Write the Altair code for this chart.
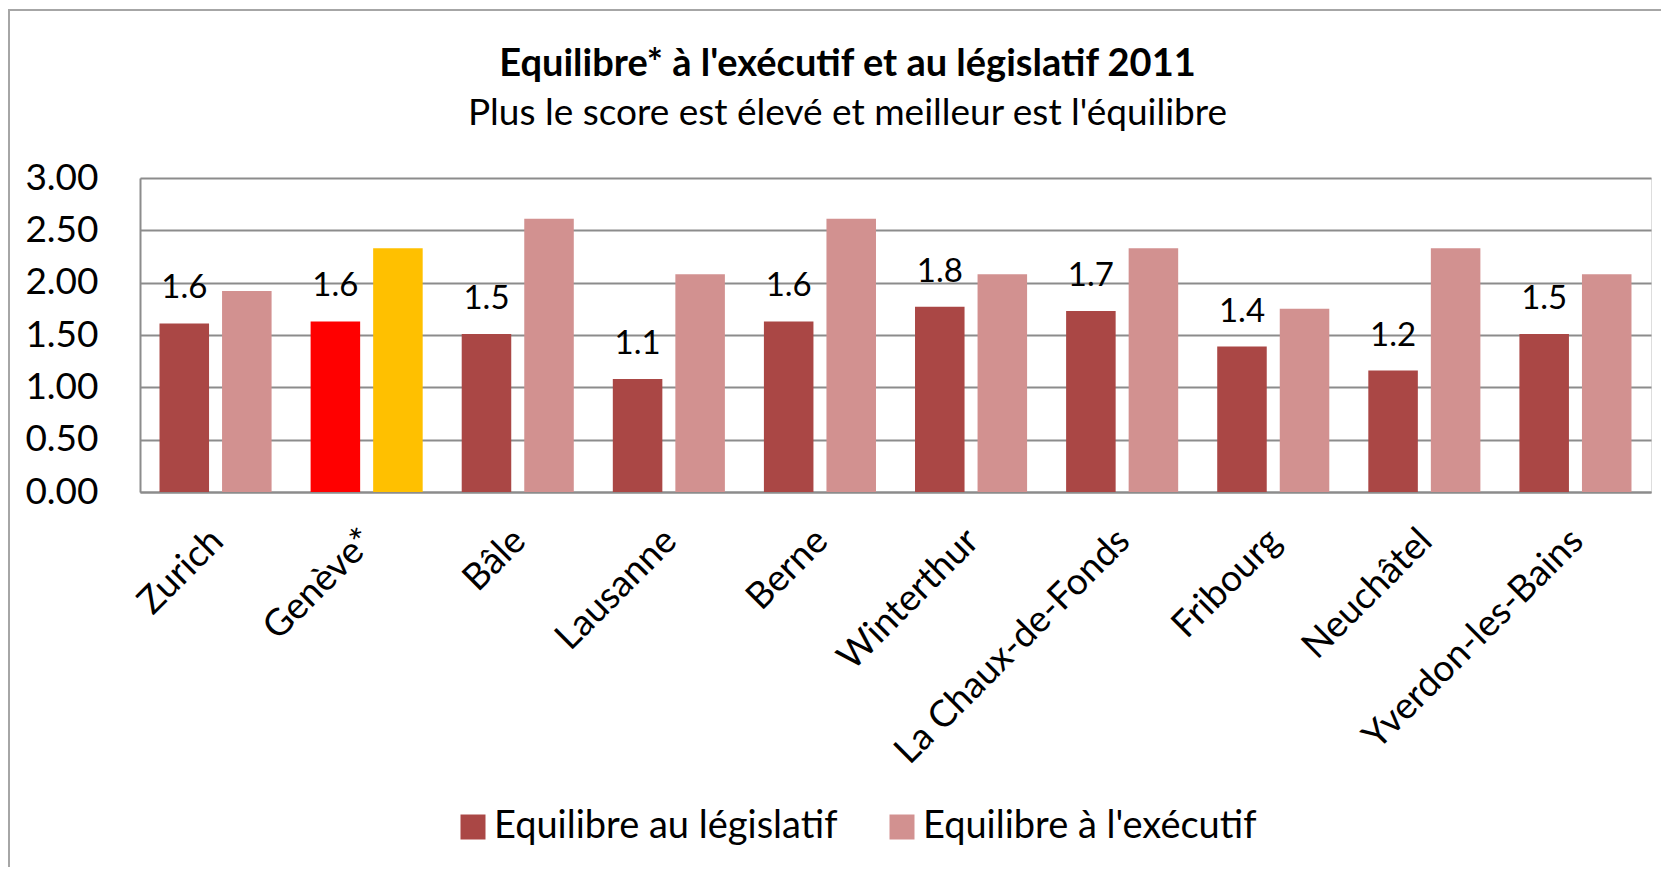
import altair as alt
import pandas as pd

cities = ["Zurich", "Genève*", "Bâle", "Lausanne", "Berne", "Winterthur",
          "La Chaux-de-Fonds", "Fribourg", "Neuchâtel", "Yverdon-les-Bains"]
legislatif = [1.61, 1.63, 1.51, 1.08, 1.63, 1.77, 1.73, 1.39, 1.16, 1.51]
executif = [1.92, 2.33, 2.61, 2.08, 2.61, 2.08, 2.33, 1.75, 2.33, 2.08]
series = ["Equilibre au législatif", "Equilibre à l'exécutif"]
highlight = "Genève*"
highlight_keys = ["Genève législatif", "Genève exécutif"]
y_ticks = [0, 0.5, 1.0, 1.5, 2.0, 2.5, 3.0]

rows = []
for c, l, e in zip(cities, legislatif, executif):
    for i, (s, v) in enumerate(zip(series, [l, e])):
        key = highlight_keys[i] if c == highlight else s
        rows.append({"city": c, "serie": s, "value": v, "ckey": key,
                     "label": v if i == 0 else None})
df = pd.DataFrame(rows)

FONT = "Lato"
dark, light, red, yellow = "#AA4745", "#D29190", "#FF0000", "#FFC000"

x_enc = alt.X("city:N", sort=cities, title=None,
              scale=alt.Scale(paddingInner=0, paddingOuter=0),
              axis=alt.Axis(labelAngle=-45, labelAlign="right", labelBaseline="middle",
                            labelPadding=43, labelOffset=2, ticks=False, labelLimit=0,
                            labelFontSize=37, labelFont=FONT, labelColor="#000000",
                            domainColor="#8c8c8c", domainWidth=2, grid=False))
xo_enc = alt.XOffset("serie:N", sort=series,
                     scale=alt.Scale(paddingInner=0.208, paddingOuter=0.312))

bars = alt.Chart(df).mark_bar().encode(
    x=x_enc,
    xOffset=xo_enc,
    y=alt.Y("value:Q", title=None,
            scale=alt.Scale(domain=[0, 3], nice=False),
            axis=alt.Axis(values=y_ticks, format=".2f", ticks=False, labelPadding=42,
                          labelFontSize=37, labelFont=FONT, labelColor="#000000",
                          domainColor="#8c8c8c", domainWidth=2,
                          gridColor="#8c8c8c", gridWidth=2)),
    color=alt.Color("ckey:N",
                    scale=alt.Scale(domain=series + highlight_keys,
                                    range=[dark, light, red, yellow]),
                    legend=alt.Legend(values=series, title=None, orient="none",
                                      direction="horizontal", columns=2,
                                      legendX=314, legendY=630, padding=0,
                                      symbolType="square", symbolSize=625,
                                      symbolStrokeWidth=0,
                                      labelFontSize=38, labelFont=FONT,
                                      labelColor="#000000", labelOffset=2,
                                      columnPadding=45, labelLimit=0)),
)

labels = alt.Chart(df).transform_filter("datum.label != null").mark_text(
    align="center", baseline="alphabetic", dy=-25, fontSize=33, font=FONT, color="#000000"
).encode(
    x=alt.X("city:N", sort=cities),
    xOffset=xo_enc,
    y=alt.Y("value:Q"),
    text=alt.Text("label:Q", format=".1f"),
)

frame = alt.Chart(alt.Data(values=[{"f": 1}])).mark_rect(
    fill=None, stroke="#a6a6a6", strokeWidth=2, clip=False
).encode(x=alt.value(-131), y=alt.value(-168), x2=alt.value(1560), y2=alt.value(720))

chart = alt.layer(frame, bars, labels).properties(
    width=1511, height=314,
    autosize=alt.AutoSizeParams(type="none"),
    padding={"left": 132, "top": 170, "right": 10, "bottom": 375},
    title=alt.TitleParams(
        text="Equilibre* à l'exécutif et au législatif 2011",
        subtitle="Plus le score est élevé et meilleur est l'équilibre",
        anchor="middle", dx=-48, offset=-123,
        font=FONT, fontSize=38, fontWeight="bold", color="#000000",
        subtitleFont=FONT, subtitleFontSize=37, subtitleColor="#000000",
        subtitlePadding=12,
    ),
).configure_view(stroke=None).configure(background="white")

chart.save("out.html", embed_options={"renderer": "svg", "actions": False})
